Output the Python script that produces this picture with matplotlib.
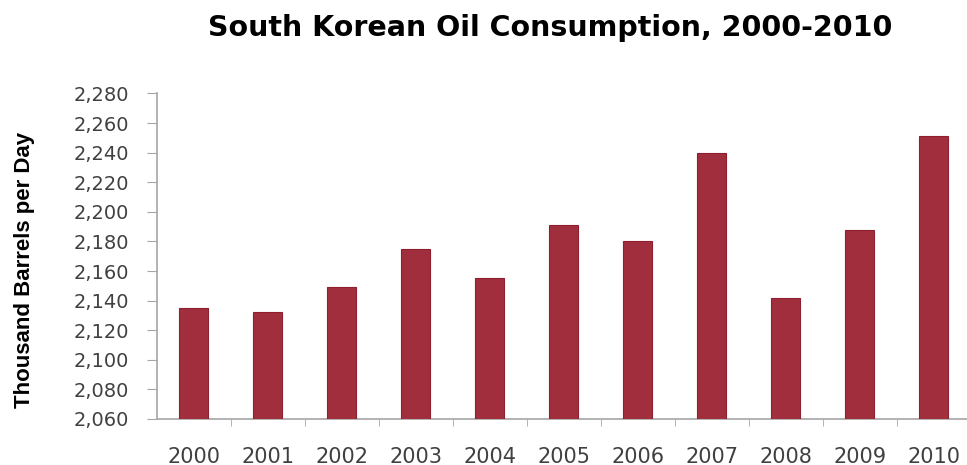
import numpy as np
import matplotlib.pyplot as plt
from matplotlib.ticker import FuncFormatter, MultipleLocator

years = ["2000", "2001", "2002", "2003", "2004", "2005",
         "2006", "2007", "2008", "2009", "2010"]
consumption = [2135, 2132, 2149, 2175, 2155, 2191, 2180, 2240, 2142, 2188, 2251]

bar_color = "#A02E3D"
axis_color = "#A6A6A6"

fig = plt.figure(figsize=(9.67, 4.65), dpi=100)
ax = fig.add_axes([0.162, 0.099, 0.842, 0.700])

x = np.arange(len(years))
ax.bar(x, consumption, width=0.39, color=bar_color, edgecolor="#8E1F30",
       linewidth=0.8, zorder=3)

ax.set_xlim(-0.5, len(years) - 0.5)
ax.set_ylim(2060, 2280)
ax.yaxis.set_major_locator(MultipleLocator(20))
ax.yaxis.set_major_formatter(FuncFormatter(lambda v, p: f"{int(v):,}"))

ax.set_xticks(x)
ax.set_xticklabels(years)
ax.set_xticks(x[:-1] + 0.5, minor=True)

for s in ["top", "right"]:
    ax.spines[s].set_visible(False)
for s in ["left", "bottom"]:
    ax.spines[s].set_color(axis_color)
    ax.spines[s].set_linewidth(1.2)

ax.tick_params(axis="y", which="major", length=7, color=axis_color,
               labelsize=14, labelcolor="#404040", pad=13)
ax.tick_params(axis="x", which="major", length=0, labelsize=15,
               labelcolor="#404040", pad=20)
ax.tick_params(axis="x", which="minor", length=5, color=axis_color)
for lab in ax.get_xticklabels() + ax.get_yticklabels():
    lab.set_family("DejaVu Sans")

ax.set_ylabel("Thousand Barrels per Day", fontsize=16, fontweight="bold",
              family="Liberation Sans")
ax.yaxis.set_label_coords(-0.149, 0.457)

fig.text(0.569, 0.94, "South Korean Oil Consumption, 2000-2010",
         ha="center", va="center", fontsize=20.5, fontweight="bold",
         family="DejaVu Sans")

fig.savefig("out.png", dpi=100)
